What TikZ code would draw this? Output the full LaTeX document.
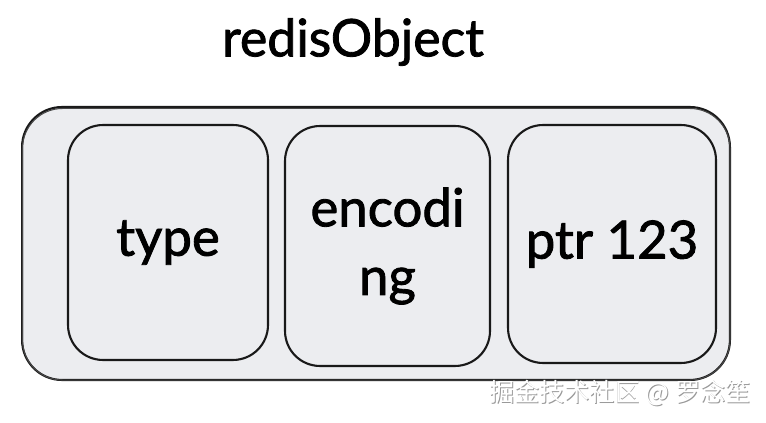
\documentclass[tikz,border=0pt]{standalone}
\usepackage{fontspec}
\setmainfont{Lato}
\newfontfamily\medfont{Lato}[FakeBold=1.6]
\newfontfamily\cjk{Noto Sans CJK SC}
\usetikzlibrary{calc, positioning}
\definecolor{boxfill}{RGB}{236,237,240}
\definecolor{inkline}{RGB}{25,25,25}

\begin{document}
\begin{tikzpicture}[x=0.02cm, y=-0.02cm, line width=1.2pt]
    % Styles for the sketched boxes
    \tikzset{
        outerbox/.style={draw=inkline, fill=boxfill, rounded corners=0.8cm, minimum width=14.16cm, minimum height=5.46cm},
        fieldbox/.style={draw=inkline, fill=boxfill, rounded corners=0.7cm, align=center, font=\medfont\fontsize{30}{39}\selectfont},
        sketch/.style={draw=inkline!80, line width=0.6pt, rounded corners=0.8cm}
    }
    \useasboundingbox (0,0) rectangle (766,422);

    % Title
    \node (title) at (353,42) {\medfont\fontsize{29.5}{33}\selectfont redisObject};

    % Outer object
    \node[outerbox] (obj) at (376,243.5) {};
    \draw[sketch] ($(obj.south west)+(1.5,-1)$) rectangle ($(obj.north east)+(-1,2.5)$);

    % Fields
    \node[fieldbox, minimum width=4cm, minimum height=4.7cm] (type) at (168,242.5) {type};
    \node[fieldbox, minimum width=4.1cm, minimum height=4.8cm] (encoding) at (387.5,246) {encodi\\ng};
    \node[fieldbox, minimum width=4.16cm, minimum height=4.76cm] (ptr) at (612,244) {ptr 123};

    % Watermark
    \node[text=gray!80] at (620.8,393.8) {\cjk\fontsize{14.3}{16}\selectfont 掘金技术社区 @ 罗念笙};
    \node[text=white] (mark) at (620,393) {\cjk\fontsize{14.3}{16}\selectfont 掘金技术社区 @ 罗念笙};
\end{tikzpicture}
\end{document}
